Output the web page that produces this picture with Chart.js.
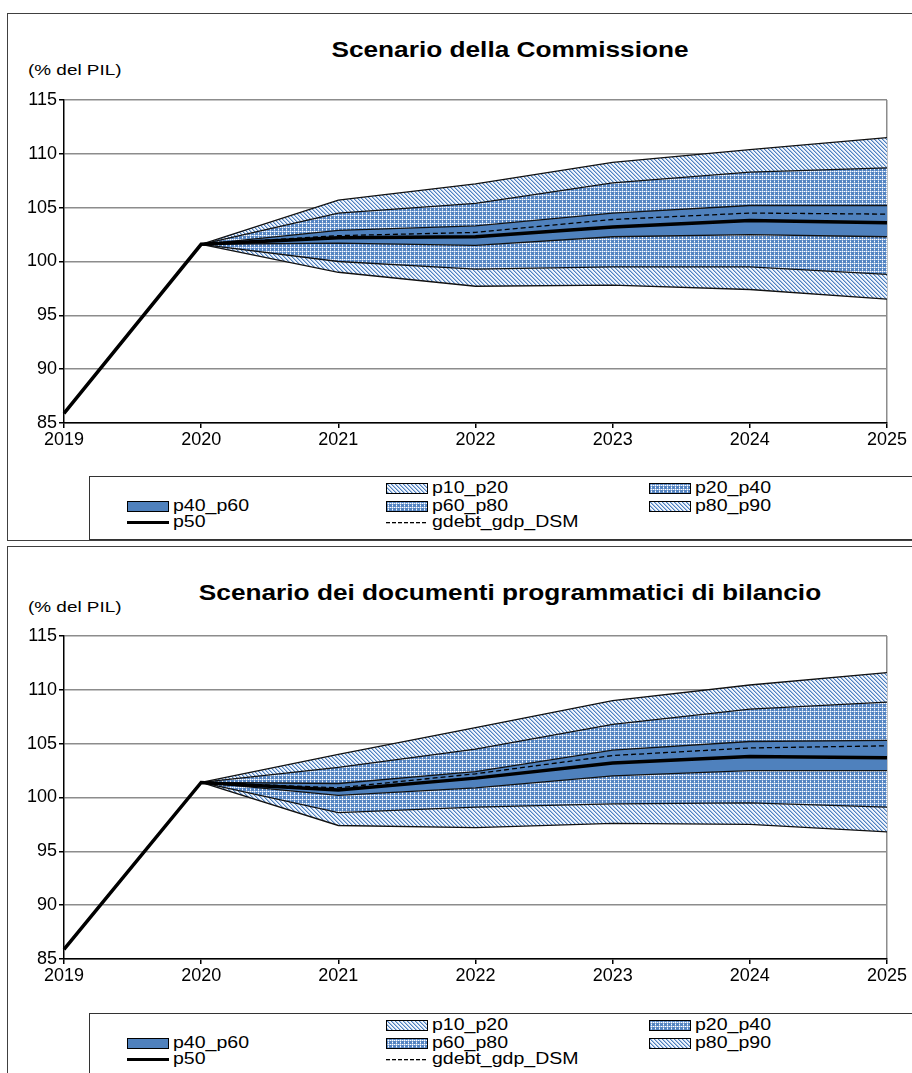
<!DOCTYPE html>
<html>
<head>
<meta charset="utf-8">
<script src="https://cdn.jsdelivr.net/npm/chart.js@4.4.0/dist/chart.umd.min.js"></script>
<style>
    body { margin: 0; background: #fff; font-family: "Liberation Sans", Arial, sans-serif; }
    .panel { position: absolute; left: 7px; width: 910px; border: 1.5px solid #404040; }
    .title { position: absolute; left: 510px; font-weight: bold; font-size: 21.5px; color: #000; white-space: nowrap;
             transform: translateX(-50%) scaleX(1.22); }
    .unit { position: absolute; left: 28px; font-size: 15.5px; color: #000; transform: scaleX(1.22); transform-origin: left; }
    .legend { position: absolute; left: 89px; width: 830px; height: 62px; border: 1px solid #333; }
    .item { position: absolute; font-size: 16px; line-height: 16px; height: 16px; white-space: nowrap; }
    .item canvas { position: absolute; left: 0; top: 3px; }
    .item span { position: absolute; left: 46px; top: 0; transform: scaleX(1.22); transform-origin: left; }
    canvas.plot { position: absolute; left: 8px; }
</style>
</head>
<body>

<div class="panel" style="top:13px; height:526px;"></div>
<div class="title" style="top:38px;">Scenario della Commissione</div>
<div class="unit" style="top:61px;">(% del PIL)</div>
<canvas id="chart1" class="plot" width="900" height="370" style="top:85px;"></canvas>
<div class="legend" id="legend1" style="top:476px;"></div>

<div class="panel" style="top:546px; height:540px;"></div>
<div class="title" style="top:581px;">Scenario dei documenti programmatici di bilancio</div>
<div class="unit" style="top:598px;">(% del PIL)</div>
<canvas id="chart2" class="plot" width="900" height="370" style="top:621px;"></canvas>
<div class="legend" id="legend2" style="top:1013px;"></div>

<script>
// ================= DATA =================
const years = ["2019", "2020", "2021", "2022", "2023", "2024", "2025"];
const yTicks = [85, 90, 95, 100, 105, 110, 115];

// Scenario della Commissione
const com_p10 = [null, 101.6, 99.0, 97.7, 97.8, 97.4, 96.5];
const com_p20 = [null, 101.6, 100.0, 99.3, 99.5, 99.5, 98.8];
const com_p40 = [null, 101.6, 101.7, 101.5, 102.3, 102.5, 102.3];
const com_p60 = [null, 101.6, 102.9, 103.3, 104.5, 105.2, 105.2];
const com_p80 = [null, 101.6, 104.5, 105.4, 107.3, 108.3, 108.7];
const com_p90 = [null, 101.6, 105.7, 107.2, 109.2, 110.4, 111.5];
const com_p50 = [85.9, 101.6, 102.2, 102.3, 103.2, 103.8, 103.6];
const com_dsm = [null, 101.6, 102.4, 102.7, 103.9, 104.5, 104.4];

// Scenario dei documenti programmatici di bilancio
const dpb_p10 = [null, 101.4, 97.4, 97.2, 97.6, 97.5, 96.8];
const dpb_p20 = [null, 101.4, 98.6, 99.1, 99.4, 99.5, 99.1];
const dpb_p40 = [null, 101.4, 100.2, 100.9, 102.0, 102.5, 102.5];
const dpb_p60 = [null, 101.4, 101.3, 102.4, 104.4, 105.2, 105.3];
const dpb_p80 = [null, 101.4, 102.8, 104.5, 106.8, 108.2, 108.85];
const dpb_p90 = [null, 101.4, 104.0, 106.5, 109.0, 110.45, 111.6];
const dpb_p50 = [85.9, 101.4, 100.7, 101.8, 103.2, 103.8, 103.7];
const dpb_dsm = [null, 101.4, 100.9, 102.2, 103.9, 104.6, 104.8];

// ================= PATTERNS =================
const blue = "#4f81bd";

function hatchPattern(ctx) {
    let c = document.createElement("canvas");
    c.width = 4;
    c.height = 4;
    let g = c.getContext("2d");
    g.fillStyle = "#f2f6fc";
    g.fillRect(0, 0, 4, 4);
    for (let i = 0; i < 4; i++) {
        g.fillStyle = "#4f81bd";
        g.fillRect(i, i, 1, 1);
        g.fillStyle = "#a6c1e6";
        g.fillRect((i + 1) % 4, i, 1, 1);
    }
    return ctx.createPattern(c, "repeat");
}

function gridPattern(ctx) {
    let c = document.createElement("canvas");
    c.width = 8;
    c.height = 8;
    let g = c.getContext("2d");
    g.fillStyle = "#5585c2";
    g.fillRect(0, 0, 8, 8);
    for (let x = 0; x < 8; x++) {
        for (let y = 0; y < 8; y++) {
            if (x % 4 === 2 || y % 4 === 2) {
                g.fillStyle = (x + y) % 2 === 0 ? "#ffffff" : "#9db8de";
                g.fillRect(x, y, 1, 1);
            }
        }
    }
    return ctx.createPattern(c, "repeat");
}

const tmp = document.createElement("canvas").getContext("2d");
const hatch = hatchPattern(tmp);
const grid = gridPattern(tmp);

// ================= CHART =================
function band(values, fill) {
    return {
        data: values,
        borderColor: "#111",
        borderWidth: 1.3,
        backgroundColor: fill,
        fill: fill ? "-1" : false,
        pointRadius: 0,
        order: 1
    };
}

function drawChart(id, p10, p20, p40, p60, p80, p90, p50, dsm) {
    new Chart(document.getElementById(id), {
        type: "line",
        data: {
            labels: years,
            datasets: [
                band(p10, null),
                band(p20, hatch),
                band(p40, grid),
                band(p60, blue),
                band(p80, grid),
                band(p90, hatch),
                { data: p50, borderColor: "#000", borderWidth: 3.5, pointRadius: 0, fill: false, order: 0 },
                { data: dsm, borderColor: "#000", borderWidth: 1.3, borderDash: [5, 3], pointRadius: 0, fill: false, order: 0 }
            ]
        },
        options: {
            responsive: false,
            animation: false,
            devicePixelRatio: 1,
            layout: { padding: { top: 15, right: 20, left: 0, bottom: 0 } },
            plugins: { legend: { display: false }, tooltip: { enabled: false } },
            elements: { line: { tension: 0 } },
            scales: {
                x: {
                    offset: false,
                    afterFit: s => { s.height = 32; },
                    grid: {
                        color: c => c.index === 6 ? "#8c8c8c" : "rgba(0,0,0,0)",
                        lineWidth: 1.5,
                        tickColor: "#000",
                        tickLength: 5
                    },
                    border: { color: "#000", width: 1.5 },
                    ticks: { color: "#000", font: { family: "Liberation Sans", size: 18 }, padding: 1, maxRotation: 0 }
                },
                y: {
                    min: 85,
                    max: 115,
                    afterFit: s => { s.width = 56; },
                    afterBuildTicks: s => { s.ticks = yTicks.map(v => ({ value: v })); },
                    grid: { color: "#8c8c8c", lineWidth: 1.5, tickColor: "#000", tickLength: 5 },
                    border: { color: "#000", width: 1.5 },
                    ticks: { color: "#000", font: { family: "Liberation Sans", size: 18 }, padding: 2 }
                }
            }
        }
    });
}

// ================= LEGEND =================
function swatch(kind) {
    let c = document.createElement("canvas");
    c.width = 42;
    c.height = 11;
    let g = c.getContext("2d");
    if (kind === "line") {
        g.fillStyle = "#000";
        g.fillRect(0, 4, 42, 3);
    } else if (kind === "dash") {
        g.fillStyle = "#000";
        for (let x = 0; x < 42; x += 6) g.fillRect(x, 5, 4, 1.3);
    } else {
        g.fillStyle = kind === "hatch" ? hatchPattern(g) : kind === "grid" ? gridPattern(g) : blue;
        g.fillRect(0, 0, 42, 11);
        g.strokeStyle = "#000";
        g.lineWidth = 1;
        g.strokeRect(0.5, 0.5, 41, 10);
    }
    return c;
}

function buildLegend(id) {
    let items = [
        ["p10_p20", "hatch", 296, 3],
        ["p20_p40", "grid", 559, 3],
        ["p40_p60", "solid", 37, 21],
        ["p60_p80", "grid", 296, 21],
        ["p80_p90", "hatch", 559, 21],
        ["p50", "line", 37, 37],
        ["gdebt_gdp_DSM", "dash", 296, 37]
    ];
    let box = document.getElementById(id);
    items.forEach(it => {
        let d = document.createElement("div");
        d.className = "item";
        d.style.left = it[2] + "px";
        d.style.top = it[3] + "px";
        d.appendChild(swatch(it[1]));
        let s = document.createElement("span");
        s.innerText = it[0];
        d.appendChild(s);
        box.appendChild(d);
    });
}

drawChart("chart1", com_p10, com_p20, com_p40, com_p60, com_p80, com_p90, com_p50, com_dsm);
drawChart("chart2", dpb_p10, dpb_p20, dpb_p40, dpb_p60, dpb_p80, dpb_p90, dpb_p50, dpb_dsm);
buildLegend("legend1");
buildLegend("legend2");
</script>
</body>
</html>
